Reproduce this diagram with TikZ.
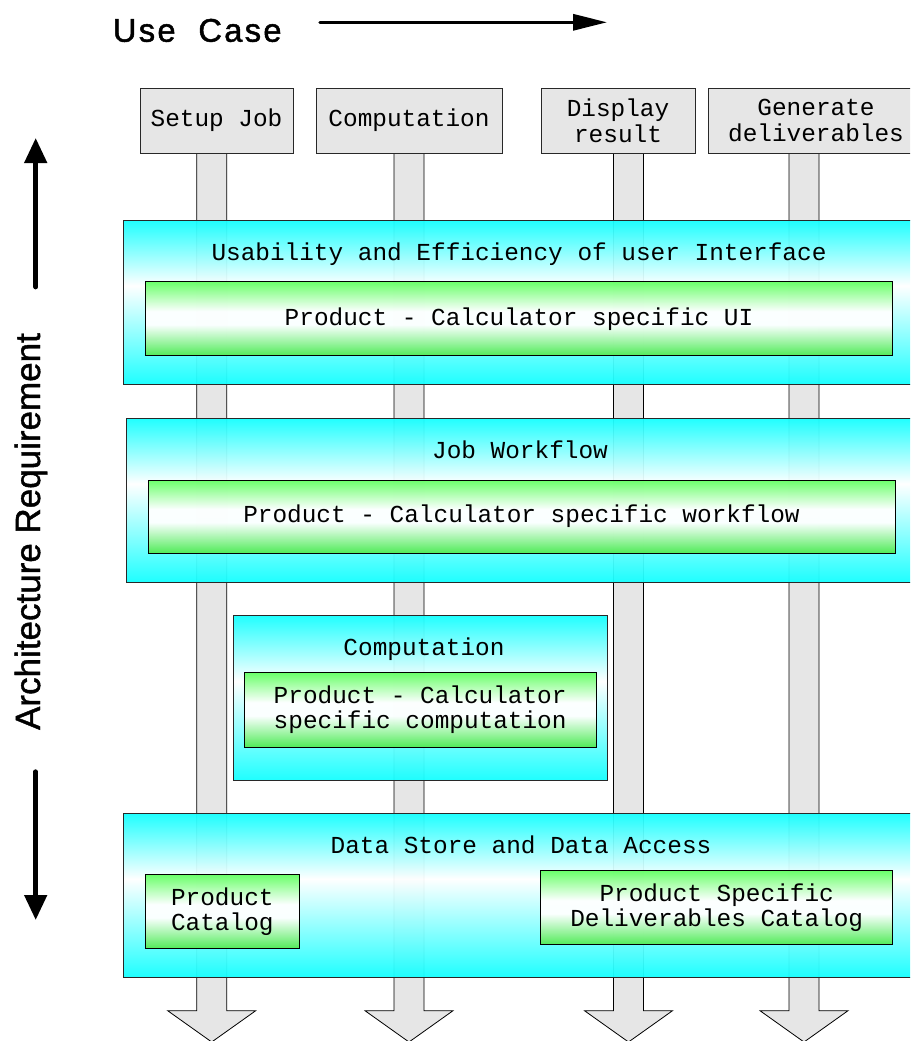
\documentclass[tikz,border=0pt]{standalone}
\usepackage{fontspec}
\setmainfont{Liberation Sans}
\newfontfamily\monof{Liberation Mono}
\newfontfamily\usecasef[LetterSpace=7,FakeBold=1.5]{Liberation Sans}
\newfontfamily\archf[FakeBold=1.2]{Liberation Sans}
\usetikzlibrary{arrows.meta}
\definecolor{cyA}{RGB}{20,255,255}
\definecolor{grA}{RGB}{100,255,100}
\definecolor{grB}{RGB}{80,235,80}
\definecolor{barg}{RGB}{230,230,230}
\definecolor{edgec}{RGB}{40,40,40}
\pgfdeclareverticalshading{cyanshade}{100bp}{color(0bp)=(cyA); color(25bp)=(cyA); color(55bp)=(white); color(75bp)=(cyA); color(100bp)=(cyA)}
\pgfdeclareverticalshading{greenshade}{100bp}{color(0bp)=(grB); color(25bp)=(grB); color(46bp)=(white); color(55bp)=(white); color(75bp)=(grA); color(100bp)=(grA)}
\newcommand\fatbar[1]{\draw[barstyle] ({#1-15},150) -- ({#1-15},1010.7) -- ({#1-44},1010.7) -- (#1,1042) -- ({#1+44},1010.7) -- ({#1+15},1010.7) -- ({#1+15},150) -- cycle;}
\begin{document}
\begin{tikzpicture}[x=1pt,y=-1pt,
  mono/.style={font=\monof\fontsize{24.4}{25.6}\selectfont, inner sep=0pt, align=center},
  header/.style={mono, draw=edgec, line width=0.8pt, fill=barg},
  barstyle/.style={draw=black, line width=0.8pt, fill=barg},
  cyanbox/.style={draw=edgec, line width=0.8pt, shade, shading=cyanshade, fill opacity=0.95, inner sep=0pt},
  greenbox/.style={mono, draw=black, line width=1pt, shade, shading=greenshade, fill opacity=0.95, text opacity=1},
  title/.style={mono, anchor=base},
  bigarrow/.style={line width=4.7pt, line cap=round, -{Triangle[length=25pt,width=22pt]}}
]
\useasboundingbox (0,0) rectangle (910,1041);
\clip (0,0) rectangle (910,1041);
\fill[white] (0,0) rectangle (910,1041);

% vertical use-case bars
\fatbar{211.7}
\fatbar{409}
\fatbar{628.5}
\fatbar{804}

% header boxes
\node[header, minimum width=153pt, minimum height=65pt] (h1) at (216.5,120.5) {Setup Job};
\node[header, minimum width=186pt, minimum height=65pt] (h2) at (409,120.5) {Computation};
\node[header, minimum width=154pt, minimum height=65pt] (h3) at (618,120.5) {Display\\result};
\node[header, minimum width=216pt, minimum height=65pt] (h4) at (816,120.5) {Generate\\deliverables};

% cyan layers
\node[cyanbox, minimum width=791.7pt, minimum height=164pt] (c1) at (519.15,302) {};
\node[cyanbox, minimum width=789pt, minimum height=164pt] (c2) at (520.5,500) {};
\node[cyanbox, minimum width=374pt, minimum height=165pt] (c3) at (420.3,697.5) {};
\node[cyanbox, minimum width=791.7pt, minimum height=164pt] (c4) at (519.15,895.3) {};

% titles
\node[title] (t1) at (519,260.7) {Usability and Efficiency of user Interface};
\node[title] (t2) at (520,458) {Job Workflow};
\node[title] (t3) at (424,655) {Computation};
\node[title] (t4) at (521,853.3) {Data Store and Data Access};

% green boxes
\node[greenbox, minimum width=747.4pt, minimum height=74pt] (g1) at (519,318.7) {Product - Calculator specific UI};
\node[greenbox, minimum width=747pt, minimum height=73pt] (g2) at (521.5,516.5) {Product - Calculator specific workflow};
\node[greenbox, minimum width=351.7pt, minimum height=74.3pt] (g3) at (420.15,709.85) {Product - Calculator\\specific computation};
\node[greenbox, minimum width=154pt, minimum height=74pt] (g4) at (222.3,911.7) {Product\\Catalog};
\node[greenbox, minimum width=352pt, minimum height=74pt] (g5) at (716.7,907.7) {Product Specific\\Deliverables Catalog};

% Use Case label and arrow
\node[font=\usecasef\fontsize{32.7}{36}\selectfont, anchor=base west, inner sep=0pt] (uc) at (112.7,41.7) {Use\ \ Case};
\coordinate (ucs) at (320,22.3);
\coordinate (uce) at (607,22.3);
\draw[line width=3.2pt, line cap=round, -{Triangle[length=34pt,width=16pt]}] (ucs) -- (uce);

% Architecture Requirement label and arrows
\node[font=\archf\fontsize{35}{40}\selectfont, rotate=90, anchor=base, inner sep=0pt] (ar) at (40,531.5) {Architecture Requirement};
\coordinate (aup0) at (35.7,287);
\coordinate (aup1) at (35.7,138);
\coordinate (adn0) at (35.7,771.7);
\coordinate (adn1) at (35.7,920);
\draw[bigarrow] (aup0) -- (aup1);
\draw[bigarrow] (adn0) -- (adn1);
\end{tikzpicture}
\end{document}
